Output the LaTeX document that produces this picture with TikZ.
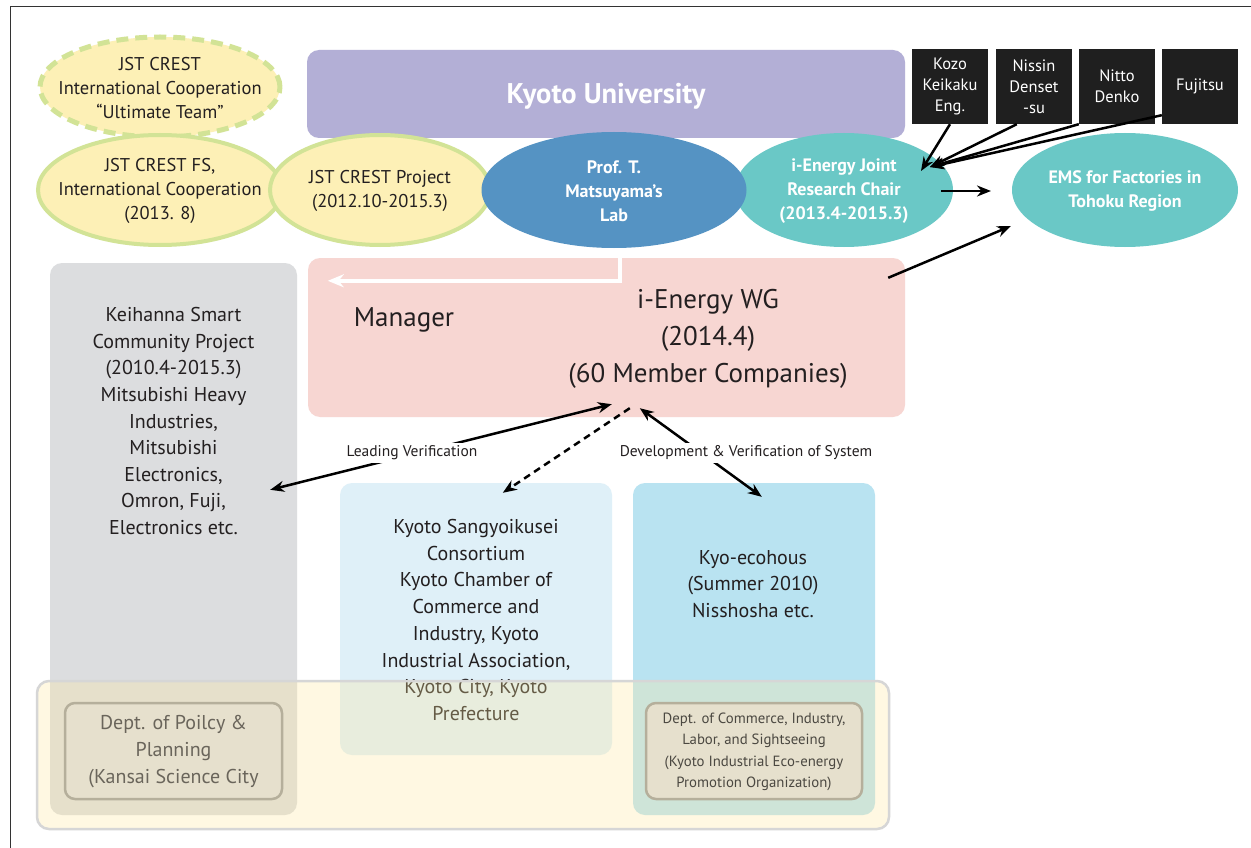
\documentclass[tikz,border=0pt]{standalone}
\usepackage{fontspec}
\setmainfont{PT Sans}
\usetikzlibrary{shapes.geometric,arrows.meta,calc}
\definecolor{cyel}{HTML}{FDF0B6}
\definecolor{cgrn}{HTML}{D2E396}
\definecolor{cpur}{HTML}{B3AFD6}
\definecolor{cblu}{HTML}{5593C3}
\definecolor{cteal}{HTML}{6AC8C6}
\definecolor{cpink}{HTML}{F7D6D2}
\definecolor{cgray}{HTML}{DCDDDF}
\definecolor{clblu}{HTML}{DFF0F8}
\definecolor{cmblu}{HTML}{B9E3F1}
\definecolor{cband}{HTML}{FFE9A0}
\definecolor{cbandb}{HTML}{D6D6D6}
\definecolor{cdept}{HTML}{E6E0CD}
\definecolor{cdeptb}{HTML}{B5AF9B}
\definecolor{ctxt}{HTML}{231F20}
\definecolor{cdtxt}{HTML}{6A655B}
\definecolor{cdtxtb}{HTML}{4B4841}
\newcommand\fsz[2]{\fontsize{#1}{#2}\selectfont}
\begin{document}
\begin{tikzpicture}[x=1pt,y=-1pt,
  oval/.style={ellipse, inner sep=0pt, line width=4pt},
  yell/.style={oval, draw=cgrn, fill=cyel},
  txt/.style={align=center, text=ctxt, inner sep=0pt, font=\fsz{18.5}{24}},
  wtxt/.style={align=center, text=white, inner sep=0pt, font=\bfseries\fsz{18}{24}},
  blk/.style={fill=black!88, minimum width=76pt, minimum height=75pt, inner sep=0pt, align=center, text=white, font=\fsz{16.5}{21}},
  panel/.style={rounded corners=12pt, inner sep=0pt},
  arr/.style={line width=2.5pt, -{Stealth[length=14pt,width=11pt]}},
  arrb/.style={line width=2.5pt, {Stealth[length=14pt,width=11pt]}-{Stealth[length=14pt,width=11pt]}},
  lbl/.style={fill=white, inner sep=3pt, text=ctxt, font=\fsz{15.5}{18}},
]
\useasboundingbox (0,0) rectangle (1251,848);
\fill[white] (0,0) rectangle (1251,848);
\draw[line width=1pt, black!80] (10,848) -- (10,7) -- (1251,7);

% panels
\node[panel, fill=cgray, minimum width=247pt, minimum height=552pt] (keihanna) at (173.5,539) {};
\node[panel, fill=clblu, minimum width=272pt, minimum height=272pt] (sangyo) at (476,619) {};
\node[panel, fill=cmblu, minimum width=242pt, minimum height=332pt] (eco) at (754,649) {};
\node[panel, fill=cpink, minimum width=597pt, minimum height=159pt] (wg) at (606.5,337.5) {};
\node[panel, fill=cpur, minimum width=598pt, minimum height=88pt] (ku) at (606,94) {};
\node[align=center, text=white, font=\bfseries\fsz{28.5}{34}] (kut) at (606,96) {Kyoto University};

% black boxes
\node[blk] (kozo) at (950,86.5) {Kozo\\Keikaku\\Eng.};
\node[blk] (nissin) at (1034,86.5) {Nissin\\Denset\\-su};
\node[blk] (nitto) at (1117,86.5) {Nitto\\Denko};
\node[blk] (fujitsu) at (1200,86.5) {Fujitsu};

% ellipses
\node[yell, dash pattern=on 12pt off 7pt, line width=5pt, minimum width=240pt, minimum height=100pt] (ut) at (160,87) {};
\node[txt] (utt) at (160,88) {JST CREST\\International Cooperation\\``Ultimate Team''};
\node[yell, minimum width=244pt, minimum height=110pt] (fs) at (160,190) {};
\node[txt] (fst) at (160,191) {JST CREST FS,\\International Cooperation\\(2013. 8)};
\node[yell, minimum width=220pt, minimum height=110pt] (proj) at (380,190) {};
\node[txt] (projt) at (380,191) {JST CREST Project\\(2012.10-2015.3)};
\node[oval, fill=cteal, minimum width=218pt, minimum height=114pt] (jc) at (844,190) {};
\node[wtxt] (jct) at (844,191) {i-Energy Joint\\Research Chair\\(2013.4-2015.3)};
\node[oval, fill=cblu, minimum width=265pt, minimum height=116pt] (lab) at (614,190) {};
\node[wtxt] (labt) at (614,191) {Prof. T.\\Matsuyama's\\Lab};
\node[oval, fill=cteal, minimum width=226pt, minimum height=114pt] (ems) at (1125,190) {};
\node[wtxt] (emst) at (1125,191) {EMS for Factories in\\Tohoku Region};

% texts in panels
\node[txt, font=\fsz{27}{37}] (wgt) at (708,339) {i-Energy WG\\(2014.4)\\(60 Member Companies)};
\node[txt, font=\fsz{27}{37}] (mgr) at (404,320) {Manager};
\node[txt, font=\fsz{20}{26.6}] (keit) at (173.5,421) {Keihanna Smart\\Community Project\\(2010.4-2015.3)\\Mitsubishi Heavy\\Industries,\\Mitsubishi\\Electronics,\\Omron, Fuji,\\Electronics etc.};
\node[txt, font=\fsz{20}{26.7}] (sangt) at (476,620) {Kyoto Sangyoikusei\\Consortium\\Kyoto Chamber of\\Commerce and\\Industry, Kyoto\\Industrial Association,\\Kyoto City, Kyoto\\Prefecture};
\node[txt, font=\fsz{20}{26.6}] (ecot) at (753,584) {Kyo-ecohous\\(Summer 2010)\\Nisshosha etc.};

% white arrow inside WG
\draw[white, line width=4pt, -{Stealth[length=16pt,width=13pt]}] ($(wg.north west)+(312,-2)$) |- ($(wg.north west)+(20,23)$);

% band
\node[panel, fill=cband, fill opacity=0.3, draw=cbandb, line width=2.5pt, minimum width=852pt, minimum height=148pt] (band) at (463,755) {};
\node[panel, rounded corners=10pt, fill=cdept, draw=cdeptb, line width=2.5pt, minimum width=217pt, minimum height=96pt] (dpol) at (173.5,751) {};
\node[txt, text=cdtxt, font=\fsz{20}{27}] (dpolt) at (173.5,752) {Dept. of Poilcy \&\\Planning\\(Kansai Science City};
\node[panel, rounded corners=10pt, fill=cdept, draw=cdeptb, line width=2.5pt, minimum width=216pt, minimum height=96pt] (dcom) at (754,751) {};
\node[txt, text=cdtxtb, font=\fsz{14.8}{21.3}] (dcomt) at (754,752) {Dept. of Commerce, Industry,\\Labor, and Sightseeing\\(Kyoto Industrial Eco-energy\\Promotion Organization)};

% top arrows
\coordinate (jcin) at ($(jc.center)+(77,-19)$);
\coordinate (jcin2) at ($(jc.center)+(86,-23)$);
\draw[arr] (kozo.south) -- (jcin);
\draw[arr] ($(nissin.south west)+(21,0)$) -- (jcin2);
\draw[arr] (nitto.south west) -- (jcin2);
\draw[arr] ($(fujitsu.south west)+(0,-9)$) -- (jcin2);
\draw[arr] ($(jc.east)+(-14,1)$) -- ($(ems.west)+(-19,1)$);
\draw[arr] ($(wg.north east)+(-17,20)$) -- ($(ems.west)+(1,36)$);

% middle arrows
\draw[arrb] ($(keihanna.north east)+(-27,227)$) -- ($(wg.south west)+(304,-13)$);
\draw[arrb] ($(wg.south west)+(332,-9)$) -- ($(eco.north west)+(129,14)$);
\draw[arr, dash pattern=on 7pt off 5pt] ($(wg.south west)+(322,-9)$) -- ($(sangyo.north west)+(163,10)$);
\node[lbl] (lv) at (412,453) {Leading Verification};
\node[lbl] (dv) at (746,453) {Development \& Verification of System};
\end{tikzpicture}
\end{document}
